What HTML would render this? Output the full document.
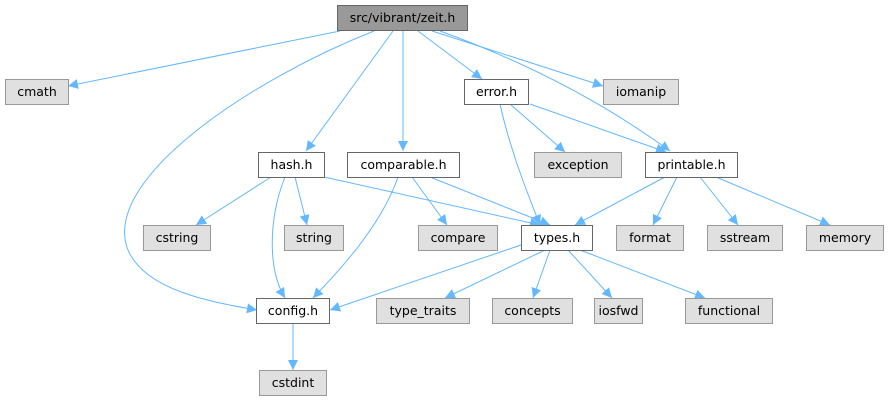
<!DOCTYPE html>
<html><head><meta charset="utf-8"><style>
html,body{margin:0;padding:0;background:#fff;}
svg text{font-family:"DejaVu Sans","Liberation Sans",sans-serif;font-size:12.5px;fill:#000;}
</style></head><body>
<svg width="889" height="403" viewBox="0 0 889 403" xmlns="http://www.w3.org/2000/svg">
<defs>
<marker id="a" viewBox="0 0 10 10" refX="10" refY="5" markerWidth="10" markerHeight="10" markerUnits="userSpaceOnUse" orient="auto">
<path d="M0,0 L10,5 L0,10 z" fill="#63b8ff"/>
</marker>
</defs>
<g fill="none" stroke="#63b8ff" stroke-width="1" marker-end="url(#a)">
<path d="M340,31 L68,86"/>
<path d="M374,31 C250,80 100,180 128,250 C145,290 210,302 257,310"/>
<path d="M393,31 L306,151"/>
<path d="M403,31 L403,151"/>
<path d="M418,31 L482,79"/>
<path d="M432,31 L603,86"/>
<path d="M440,31 C520,60 600,100 670,151"/>
<path d="M510,104 L565,152"/>
<path d="M530,104 L666,152"/>
<path d="M500,104 C510,150 530,200 540,225"/>
<path d="M271,177 L196,225"/>
<path d="M295,177 L307,225"/>
<path d="M285,177 C268,220 268,270 285,298"/>
<path d="M324,177 L540,225"/>
<path d="M398,177 C380,230 330,280 313,298"/>
<path d="M412,177 L447,225"/>
<path d="M430,177 L550,225"/>
<path d="M665,177 L575,225"/>
<path d="M677,177 L653,225"/>
<path d="M700,177 L738,225"/>
<path d="M716,177 L830,225"/>
<path d="M521,245 L330,310"/>
<path d="M545,250 L445,298"/>
<path d="M550,250 L533,298"/>
<path d="M568,250 L612,298"/>
<path d="M580,250 L705,298"/>
<path d="M293,323 L293,370"/>
</g>
<g stroke-width="1">
<rect x="337.5" y="5.5" width="130" height="25" fill="#999" stroke="#666"/>
<rect x="5.5" y="79.5" width="63" height="25" fill="#e0e0e0" stroke="#999"/>
<rect x="464.5" y="79.5" width="64" height="25" fill="#fff" stroke="#666"/>
<rect x="603.5" y="79.5" width="75" height="25" fill="#e0e0e0" stroke="#999"/>
<rect x="258.5" y="152.5" width="66" height="25" fill="#fff" stroke="#666"/>
<rect x="347.5" y="152.5" width="112" height="25" fill="#fff" stroke="#666"/>
<rect x="534.5" y="152.5" width="87" height="25" fill="#e0e0e0" stroke="#999"/>
<rect x="645.5" y="152.5" width="92" height="25" fill="#fff" stroke="#666"/>
<rect x="143.5" y="225.5" width="67" height="25" fill="#e0e0e0" stroke="#999"/>
<rect x="284.5" y="225.5" width="59" height="25" fill="#e0e0e0" stroke="#999"/>
<rect x="418.5" y="225.5" width="79" height="25" fill="#e0e0e0" stroke="#999"/>
<rect x="521.5" y="225.5" width="71" height="25" fill="#fff" stroke="#666"/>
<rect x="616.5" y="225.5" width="67" height="25" fill="#e0e0e0" stroke="#999"/>
<rect x="707.5" y="225.5" width="75" height="25" fill="#e0e0e0" stroke="#999"/>
<rect x="806.5" y="225.5" width="77" height="25" fill="#e0e0e0" stroke="#999"/>
<rect x="256.5" y="298.5" width="73" height="25" fill="#fff" stroke="#666"/>
<rect x="376.5" y="298.5" width="93" height="25" fill="#e0e0e0" stroke="#999"/>
<rect x="492.5" y="298.5" width="80" height="25" fill="#e0e0e0" stroke="#999"/>
<rect x="594.5" y="298.5" width="48" height="25" fill="#e0e0e0" stroke="#999"/>
<rect x="685.5" y="298.5" width="87" height="25" fill="#e0e0e0" stroke="#999"/>
<rect x="259.5" y="370.5" width="67" height="25" fill="#e0e0e0" stroke="#999"/>
</g>
<g text-anchor="middle">
<text x="402.5" y="22">src/vibrant/zeit.h</text>
<text x="37" y="96">cmath</text>
<text x="496.5" y="96">error.h</text>
<text x="641" y="96">iomanip</text>
<text x="291.5" y="169">hash.h</text>
<text x="403.5" y="169">comparable.h</text>
<text x="578" y="169">exception</text>
<text x="691.5" y="169">printable.h</text>
<text x="177" y="242">cstring</text>
<text x="314" y="242">string</text>
<text x="458" y="242">compare</text>
<text x="557" y="242">types.h</text>
<text x="650" y="242">format</text>
<text x="745" y="242">sstream</text>
<text x="845" y="242">memory</text>
<text x="293" y="315">config.h</text>
<text x="423" y="315">type_traits</text>
<text x="532.5" y="315">concepts</text>
<text x="618.5" y="315">iosfwd</text>
<text x="729" y="315">functional</text>
<text x="293" y="387">cstdint</text>
</g>
</svg>
</body></html>
